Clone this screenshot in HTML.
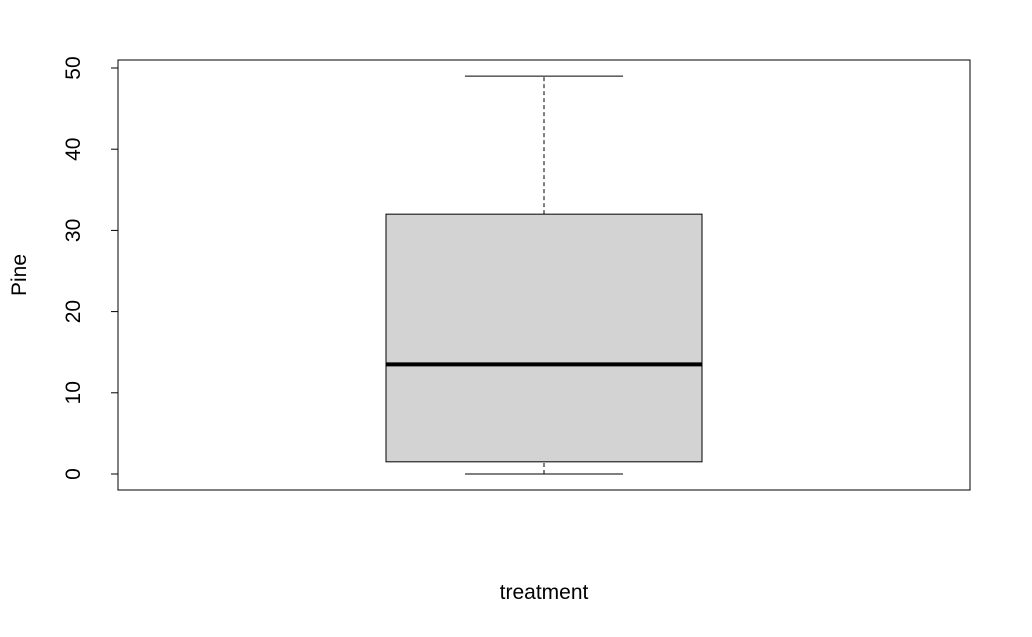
<!DOCTYPE html>
<html><head><meta charset="utf-8"><style>
html,body{margin:0;padding:0;background:#fff;}
svg{display:block;font-family:"Liberation Sans",Arial,sans-serif;}
</style></head><body>
<svg id="chart" width="1032" height="637">
<rect x="0" y="0" width="1032" height="637" fill="#fff"/>
</svg>
<script>
const categories = ["treatment"];
const stats = [[0, 1.5, 13.5, 32, 49]]; // min, q1, median, q3, max
const yTicks = [0, 10, 20, 30, 40, 50];
const yLabel = "Pine";

const NS = "http://www.w3.org/2000/svg";
const svg = document.getElementById('chart');
const L = 118, R = 970, T = 60, B = 490;
const y = v => 474 - v * (474 - 68) / 50;
const xCenter = 544, boxHalf = 158, whiskHalf = 79;
function mk(tag, attrs, parent){ const e=document.createElementNS(NS,tag); for(const k in attrs) e.setAttribute(k,attrs[k]); (parent||svg).appendChild(e); return e; }

categories.forEach((c,i)=>{
  const [mn,q1,md,q3,mx] = stats[i];
  const g = mk('g',{});
  
  
  const w1 = mk('line',{x1:xCenter,x2:xCenter,y1:y(q3),y2:y(mx),stroke:'#000','stroke-width':1,'stroke-dasharray':'4,3'},g);
  
  
  const w2 = mk('line',{x1:xCenter,x2:xCenter,y1:y(mn),y2:y(q1),stroke:'#000','stroke-width':1,'stroke-dasharray':'4,3'},g);
  
  
  const c1 = mk('line',{x1:xCenter-whiskHalf,x2:xCenter+whiskHalf,y1:y(mx),y2:y(mx),stroke:'#000','stroke-width':1},g);
  
  
  const c2 = mk('line',{x1:xCenter-whiskHalf,x2:xCenter+whiskHalf,y1:y(mn),y2:y(mn),stroke:'#000','stroke-width':1},g);
  
  
  const r = mk('rect',{x:xCenter-boxHalf,y:y(q3),width:boxHalf*2,height:y(q1)-y(q3),fill:'#d3d3d3',stroke:'#000','stroke-width':1},g);
  
  
  const m = mk('line',{x1:xCenter-boxHalf,x2:xCenter+boxHalf,y1:y(md),y2:y(md),stroke:'#000','stroke-width':4},g);
  
  
  const xl = mk('text',{x:xCenter,y:599,'font-size':21,'text-anchor':'middle'});
  xl.textContent = c;
  
  
});

const frame = mk('rect',{x:L,y:T,width:R-L,height:B-T,fill:'none',stroke:'#000','stroke-width':1});


const ax = mk('line',{x1:L,x2:L,y1:y(0),y2:y(50),stroke:'#000'});


yTicks.forEach(t=>{
  const tk = mk('line',{x1:L-7,x2:L,y1:y(t),y2:y(t),stroke:'#000'});
  
  
  const tl = mk('text',{x:80,y:y(t),'font-size':21,'text-anchor':'middle',transform:`rotate(-90 80 ${y(t)})`});
  tl.textContent = t;
  
  
});
const yl = mk('text',{x:26,y:275,'font-size':21,'text-anchor':'middle',transform:'rotate(-90 26 275)'});
yl.textContent = yLabel;


</script>
</body></html>
